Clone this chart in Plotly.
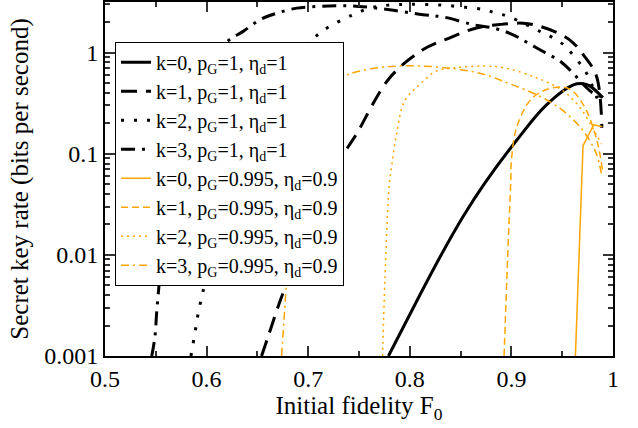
import plotly.graph_objects as go

# ---- data ----
k0_b_x = [0.779, 0.8066, 0.8295, 0.8525, 0.8738, 0.905, 0.9345, 0.961, 0.9705, 0.977, 0.990]
k0_b_y = [0.001, 0.00346, 0.00942, 0.0239, 0.0511, 0.135, 0.304, 0.479, 0.492, 0.468, 0.359]

k1_b_x = [0.6541, 0.6607, 0.6705, 0.6787, 0.69, 0.70, 0.71, 0.72, 0.73, 0.74, 0.7476, 0.7803,
          0.8131, 0.8394, 0.8656, 0.890, 0.9117, 0.928, 0.9492, 0.9607, 0.9705, 0.9836, 0.989]
k1_b_y = [0.001, 0.00157, 0.0031, 0.0052, 0.0105, 0.019, 0.033, 0.055, 0.085, 0.12, 0.157, 0.564,
          1.07, 1.40, 1.75, 1.90, 1.95, 1.82, 1.50, 1.25, 0.96, 0.59, 0.18]

k2_b_x = [0.5846, 0.5885, 0.5918, 0.5957, 0.5984, 0.61, 0.62, 0.63, 0.65, 0.67, 0.69, 0.7017,
          0.7115, 0.7213, 0.7427, 0.7607, 0.780, 0.800, 0.830, 0.855, 0.8738, 0.885, 0.8967,
          0.928, 0.941, 0.951, 0.959, 0.967, 0.9738, 0.987]
k2_b_y = [0.001, 0.00169, 0.00266, 0.00403, 0.00525, 0.017, 0.043, 0.091, 0.29, 0.63, 1.04, 1.29,
          1.56, 1.82, 2.33, 2.75, 2.95, 3.0, 2.95, 2.8, 2.65, 2.45, 2.28,
          1.62, 1.40, 1.20, 0.99, 0.79, 0.63, 0.30]

k3_b_x = [0.546, 0.5492, 0.5508, 0.5525, 0.5534, 0.56, 0.57, 0.58, 0.59, 0.60, 0.61, 0.623,
          0.636, 0.6525, 0.669, 0.6886, 0.71, 0.73, 0.75, 0.780, 0.813, 0.8328, 0.8623, 0.885,
          0.9017, 0.916, 0.933, 0.948, 0.961, 0.972, 0.980, 0.990]
k3_b_y = [0.001, 0.00157, 0.00266, 0.0042, 0.0053, 0.024, 0.124, 0.30, 0.53, 0.78, 1.03, 1.35,
          1.62, 2.11, 2.45, 2.75, 2.86, 2.90, 2.86, 2.65, 2.37, 2.25, 1.89, 1.72,
          1.50, 1.25, 1.00, 0.82, 0.62, 0.47, 0.40, 0.36]

k0_o_x = [0.963, 0.9705, 0.981, 0.9895]
k0_o_y = [0.001, 0.12, 0.193, 0.185]

k1_o_x = [0.8928, 0.8967, 0.8994, 0.900, 0.905, 0.918, 0.931, 0.949, 0.960, 0.974, 0.985, 0.9895]
k1_o_y = [0.001, 0.012, 0.054, 0.0855, 0.18, 0.333, 0.417, 0.457, 0.42, 0.265, 0.125, 0.07]

k2_o_x = [0.7732, 0.7755, 0.7797, 0.782, 0.787, 0.795, 0.8099, 0.826, 0.846, 0.872, 0.892,
          0.9247, 0.951, 0.967, 0.980, 0.9885]
k2_o_y = [0.001, 0.00565, 0.0485, 0.073, 0.157, 0.333, 0.485, 0.656, 0.71, 0.735, 0.71,
          0.564, 0.417, 0.29, 0.18, 0.125]

k3_o_x = [0.6738, 0.6787, 0.683, 0.688, 0.695, 0.705, 0.72, 0.735, 0.7476, 0.77, 0.795, 0.823,
          0.845, 0.8623, 0.8755, 0.892, 0.928, 0.951, 0.9705, 0.9836, 0.9885]
k3_o_y = [0.001, 0.0056, 0.03, 0.08, 0.17, 0.30, 0.46, 0.58, 0.645, 0.71, 0.74, 0.725,
          0.69, 0.645, 0.60, 0.52, 0.37, 0.265, 0.169, 0.10, 0.064]

names = [
    "k=0, p<sub>G</sub>=1, η<sub>d</sub>=1",
    "k=1, p<sub>G</sub>=1, η<sub>d</sub>=1",
    "k=2, p<sub>G</sub>=1, η<sub>d</sub>=1",
    "k=3, p<sub>G</sub>=1, η<sub>d</sub>=1",
    "k=0, p<sub>G</sub>=0.995, η<sub>d</sub>=0.9",
    "k=1, p<sub>G</sub>=0.995, η<sub>d</sub>=0.9",
    "k=2, p<sub>G</sub>=0.995, η<sub>d</sub>=0.9",
    "k=3, p<sub>G</sub>=0.995, η<sub>d</sub>=0.9",
]

x_tickvals = [0.5, 0.6, 0.7, 0.8, 0.9, 1.0]
x_ticktext = ["0.5", "0.6", "0.7", "0.8", "0.9", "1"]
y_tickvals = [0.001, 0.01, 0.1, 1]
y_ticktext = ["0.001", "0.01", "0.1", "1"]

FONT = "Liberation Serif"
ORANGE = "#FFA500"

series = [
    (k0_b_x, k0_b_y, "black", 3, "solid", "spline"),
    (k1_b_x, k1_b_y, "black", 3, "16px,9px", "spline"),
    (k2_b_x, k2_b_y, "black", 3, "3px,10px", "spline"),
    (k3_b_x, k3_b_y, "black", 3, "14px,7px,3px,7px", "spline"),
    (k0_o_x, k0_o_y, ORANGE, 1.5, "solid", "linear"),
    (k1_o_x, k1_o_y, ORANGE, 1.5, "7px,4px", "spline"),
    (k2_o_x, k2_o_y, ORANGE, 1.5, "2px,4px", "spline"),
    (k3_o_x, k3_o_y, ORANGE, 1.5, "8px,4px,2px,4px", "spline"),
]

fig = go.Figure()
for (xs, ys, col, w, dash, shape), nm in zip(series, names):
    fig.add_trace(go.Scatter(
        x=xs, y=ys, mode="lines", name=nm,
        line=dict(color=col, width=w, dash=dash, shape=shape, smoothing=1.0),
    ))

minor_y = [m * 10 ** e for e in range(-3, 1) for m in range(2, 10) if m * 10 ** e < 3.2]

fig.update_layout(
    width=638, height=428,
    margin=dict(l=105, r=25, t=0, b=72),
    paper_bgcolor="white", plot_bgcolor="white",
    font=dict(family=FONT, size=24, color="black"),
    showlegend=True,
    legend=dict(
        x=0.0197, y=0.888, xanchor="left", yanchor="top",
        bgcolor="white", bordercolor="black", borderwidth=1,
        font=dict(family=FONT, size=20, color="black"),
        tracegroupgap=0, itemwidth=30,
    ),
    xaxis=dict(
        range=[0.5, 1.0], tickmode="array", tickvals=x_tickvals, ticktext=x_ticktext,
        ticks="inside", ticklen=10, tickwidth=1.5, tickcolor="#333",
        showline=True, linecolor="black", linewidth=2, mirror="ticks",
        showgrid=False, zeroline=False,
        tickfont=dict(family=FONT, size=24, color="black"),
        minor=dict(tickmode="array", tickvals=[0.55, 0.65, 0.75, 0.85, 0.95],
                   ticks="inside", ticklen=5, tickwidth=1.5, tickcolor="#333", showgrid=False),
        title=dict(text="Initial fidelity F<sub>0</sub>", font=dict(family=FONT, size=25), standoff=6),
    ),
    yaxis=dict(
        type="log", range=[-3, 0.5], tickmode="array", tickvals=y_tickvals, ticktext=y_ticktext,
        ticks="inside", ticklen=10, tickwidth=1.5, tickcolor="#333",
        showline=True, linecolor="black", linewidth=2, mirror="ticks",
        showgrid=False, zeroline=False,
        tickfont=dict(family=FONT, size=24, color="black"),
        minor=dict(tickmode="array", tickvals=minor_y,
                   ticks="inside", ticklen=5, tickwidth=1.5, tickcolor="#333", showgrid=False),
        title=dict(text="Secret key rate (bits per second)", font=dict(family=FONT, size=25), standoff=8),
    ),
)

fig.write_html("out.html", config={"displayModeBar": False},
               post_script="document.body.style.margin='0px';")
